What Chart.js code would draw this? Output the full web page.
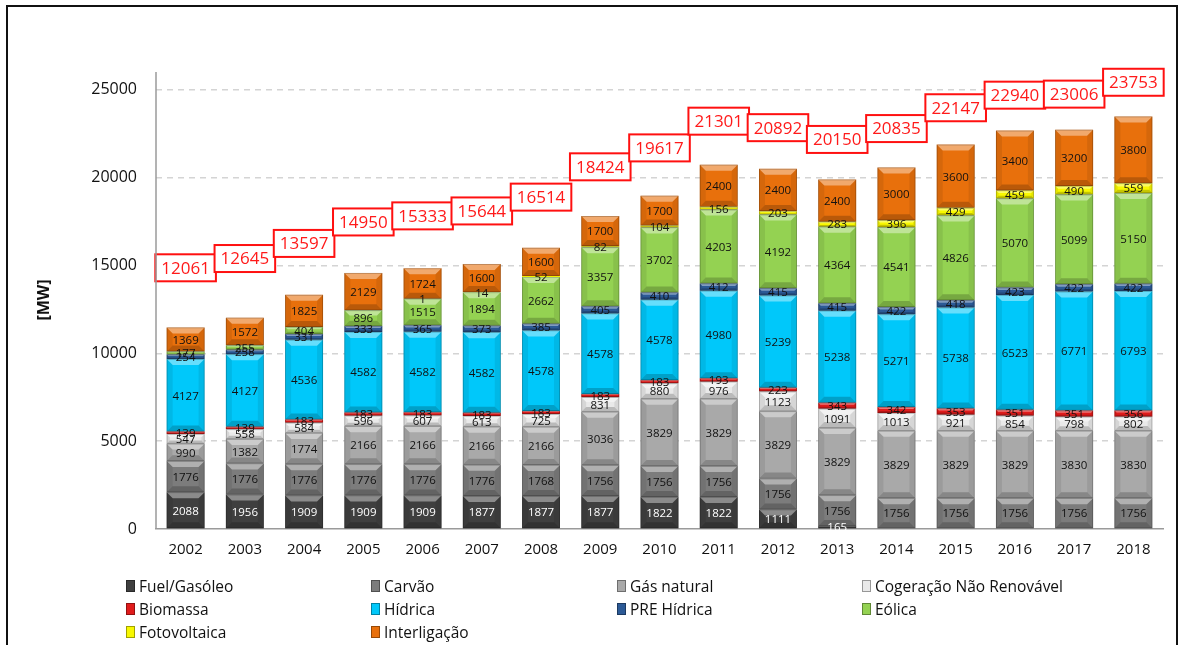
<!DOCTYPE html>
<html lang="pt">
<head>
<meta charset="utf-8">
<title>Potência instalada [MW]</title>
<script src="https://cdn.jsdelivr.net/npm/chart.js@4.4.1/dist/chart.umd.min.js"></script>
<style>
  html, body { margin: 0; padding: 0; background: #fff; overflow: hidden; }
  #wrap { position: relative; width: 1188px; height: 645px; }
  #frame {
    position: absolute; left: 6px; top: 5px; width: 1172px; height: 700px;
    border: 2px solid #111; box-sizing: border-box; pointer-events: none;
  }
  #legend {
    position: absolute; left: 126px; top: 576px;
    display: grid; grid-template-columns: 245px 246px 245px 260px;
    row-gap: 4px; font-family: "Open Sans", sans-serif; font-size: 15.5px; color: #111;
  }
  .item { display: flex; align-items: center; height: 19px; white-space: nowrap; }
  .sw { width: 9px; height: 12px; margin-right: 4px; box-sizing: border-box; border: 1px solid rgba(0,0,0,0.35); }
</style>
</head>
<body>
<div id="wrap">
  <canvas id="chart" width="1188" height="645"></canvas>
  <div id="frame"></div>
  <div id="legend"></div>
</div>
<script>
// Potência instalada por tecnologia (MW), 2002-2018
const years = ['2002','2003','2004','2005','2006','2007','2008','2009','2010','2011','2012','2013','2014','2015','2016','2017','2018'];

const fuel       = [2088, 1956, 1909, 1909, 1909, 1877, 1877, 1877, 1822, 1822, 1111, 165, 0, 0, 0, 0, 0];
const carvao     = [1776, 1776, 1776, 1776, 1776, 1776, 1768, 1756, 1756, 1756, 1756, 1756, 1756, 1756, 1756, 1756, 1756];
const gasNatural = [990, 1382, 1774, 2166, 2166, 2166, 2166, 3036, 3829, 3829, 3829, 3829, 3829, 3829, 3829, 3830, 3830];
const cogeracao  = [547, 558, 584, 596, 607, 613, 725, 831, 880, 976, 1123, 1091, 1013, 921, 854, 798, 802];
const biomassa   = [139, 139, 183, 183, 183, 183, 183, 183, 183, 193, 223, 343, 342, 353, 351, 351, 356];
const hidrica    = [4127, 4127, 4536, 4582, 4582, 4582, 4578, 4578, 4578, 4980, 5239, 5238, 5271, 5738, 6523, 6771, 6793];
const preHidrica = [254, 258, 331, 333, 365, 373, 385, 405, 410, 412, 415, 415, 422, 418, 423, 422, 422];
const eolica     = [177, 255, 404, 896, 1515, 1894, 2662, 3357, 3702, 4203, 4192, 4364, 4541, 4826, 5070, 5099, 5150];
const fotovolt   = [0, 0, 0, 0, 1, 14, 52, 82, 104, 156, 203, 283, 396, 429, 459, 490, 559];
const interlig   = [1369, 1572, 1825, 2129, 1724, 1600, 1600, 1700, 1700, 2400, 2400, 2400, 3000, 3600, 3400, 3200, 3800];

// valores nas caixas vermelhas
const totals = [12061, 12645, 13597, 14950, 15333, 15644, 16514, 18424, 19617, 21301, 20892, 20150, 20835, 22147, 22940, 23006, 23753];

const yTicks = [0, 5000, 10000, 15000, 20000, 25000];

const series = [
  { label: 'Fuel/Gasóleo', data: fuel, color: '#3f3f3f', text: '#ffffff' },
  { label: 'Carvão', data: carvao, color: '#7c7c7c', text: '#111111' },
  { label: 'Gás natural', data: gasNatural, color: '#a9a9a9', text: '#111111' },
  { label: 'Cogeração Não Renovável', data: cogeracao, color: '#e9e9e9', text: '#111111' },
  { label: 'Biomassa', data: biomassa, color: '#e01b1b', text: '#111111' },
  { label: 'Hídrica', data: hidrica, color: '#00c8fa', text: '#111111' },
  { label: 'PRE Hídrica', data: preHidrica, color: '#2c5a96', text: '#111111' },
  { label: 'Eólica', data: eolica, color: '#94d252', text: '#111111' },
  { label: 'Fotovoltaica', data: fotovolt, color: '#f8f800', text: '#111111' },
  { label: 'Interligação', data: interlig, color: '#e8700c', text: '#111111' }
];

const FONT = '"Open Sans", sans-serif';

const datasets = series.map(s => ({
  type: 'bar',
  label: s.label,
  data: s.data,
  backgroundColor: s.color,
  borderWidth: 0,
  stack: 'mw',
  categoryPercentage: 1,
  barPercentage: 0.64,
  labelColor: s.text,
  order: 2
}));

datasets.push({
  type: 'line',
  label: 'total',
  data: totals,
  yAxisID: 'y2',
  showLine: false,
  pointRadius: 0,
  pointHoverRadius: 0,
  order: 1
});

// relevo simples em cada segmento (faixa clara em cima, escura em baixo)
const bevelPlugin = {
  id: 'bevel',
  afterDatasetsDraw(chart) {
    const ctx = chart.ctx;
    chart.data.datasets.forEach((ds, i) => {
      if (ds.type !== 'bar') return;
      chart.getDatasetMeta(i).data.forEach(bar => {
        const x0 = bar.x - bar.width / 2, x1 = bar.x + bar.width / 2;
        const top = Math.min(bar.y, bar.base), bot = Math.max(bar.y, bar.base);
        const h = bot - top;
        if (h < 1) return;
        const b = Math.min(6, h / 3);
        ctx.save();
        ctx.fillStyle = 'rgba(255,255,255,0.4)';
        ctx.beginPath();
        ctx.moveTo(x0, top); ctx.lineTo(x1, top);
        ctx.lineTo(x1 - b, top + b); ctx.lineTo(x0 + b, top + b);
        ctx.closePath(); ctx.fill();
        ctx.fillStyle = 'rgba(0,0,0,0.2)';
        ctx.beginPath();
        ctx.moveTo(x0, bot); ctx.lineTo(x1, bot);
        ctx.lineTo(x1 - b, bot - b); ctx.lineTo(x0 + b, bot - b);
        ctx.closePath(); ctx.fill();
        ctx.fillStyle = 'rgba(0,0,0,0.08)';
        ctx.beginPath();
        ctx.moveTo(x0, top); ctx.lineTo(x0 + b, top + b);
        ctx.lineTo(x0 + b, bot - b); ctx.lineTo(x0, bot);
        ctx.closePath(); ctx.fill();
        ctx.beginPath();
        ctx.moveTo(x1, top); ctx.lineTo(x1 - b, top + b);
        ctx.lineTo(x1 - b, bot - b); ctx.lineTo(x1, bot);
        ctx.closePath(); ctx.fill();
        ctx.strokeStyle = 'rgba(0,0,0,0.25)';
        ctx.lineWidth = 0.8;
        ctx.strokeRect(x0 + 0.4, top + 0.4, bar.width - 0.8, h - 0.8);
        ctx.restore();
      });
    });
  }
};

// valores dentro das barras e caixas vermelhas com os totais
const labelPlugin = {
  id: 'valueLabels',
  afterDraw(chart) {
    const ctx = chart.ctx;
    ctx.save();
    ctx.textAlign = 'center';
    ctx.textBaseline = 'middle';
    ctx.font = '11.5px ' + FONT;
    chart.data.datasets.forEach((ds, i) => {
      if (ds.type !== 'bar') return;
      chart.getDatasetMeta(i).data.forEach((bar, j) => {
        const v = ds.data[j];
        if (!v) return;
        ctx.fillStyle = ds.labelColor;
        ctx.fillText(String(v), bar.x, (bar.y + bar.base) / 2 + 1);
      });
    });

    const idx = chart.data.datasets.findIndex(d => d.label === 'total');
    ctx.font = '17px ' + FONT;
    chart.getDatasetMeta(idx).data.forEach((pt, j) => {
      const txt = String(totals[j]);
      const w = ctx.measureText(txt).width + 12;
      const h = 27;
      ctx.fillStyle = '#ffffff';
      ctx.fillRect(pt.x - w / 2, pt.y - h / 2, w, h);
      ctx.strokeStyle = '#ff1010';
      ctx.lineWidth = 2;
      ctx.strokeRect(pt.x - w / 2, pt.y - h / 2, w, h);
      ctx.fillStyle = '#ff1a1a';
      ctx.fillText(txt, pt.x, pt.y + 1);
    });

    // título do eixo
    ctx.translate(44, 300);
    ctx.rotate(-Math.PI / 2);
    ctx.font = 'bold 16px ' + FONT;
    ctx.fillStyle = '#111';
    ctx.fillText('[MW]', 0, 0);
    ctx.restore();
  }
};

const whiteBg = {
  id: 'whiteBg',
  beforeDraw(chart) {
    const ctx = chart.ctx;
    ctx.save();
    ctx.fillStyle = '#fff';
    ctx.fillRect(0, 0, chart.width, chart.height);
    ctx.restore();
  }
};

// eixo vertical contínuo por cima da grelha tracejada
const axisLine = {
  id: 'axisLine',
  afterDraw(chart) {
    const a = chart.chartArea, ctx = chart.ctx;
    ctx.save();
    ctx.strokeStyle = '#9a9a9a';
    ctx.lineWidth = 1.5;
    ctx.beginPath();
    ctx.moveTo(a.left, a.top);
    ctx.lineTo(a.left, a.bottom);
    ctx.stroke();
    ctx.restore();
  }
};

new Chart(document.getElementById('chart'), {
  data: { labels: years, datasets: datasets },
  plugins: [whiteBg, bevelPlugin, labelPlugin, axisLine],
  options: {
    responsive: false,
    animation: false,
    layout: { padding: { left: 0, top: 72, right: 25, bottom: 86 } },
    plugins: { legend: { display: false }, tooltip: { enabled: false } },
    scales: {
      x: {
        stacked: true,
        grid: { display: false, drawTicks: false },
        border: { display: true, color: '#9a9a9a', width: 1.5 },
        ticks: { color: '#111', font: { family: FONT, size: 15 }, padding: 12, maxRotation: 0 },
        afterFit(scale) { scale.height = 30; }
      },
      y: {
        stacked: true,
        min: 0,
        max: 26000,
        afterBuildTicks(scale) { scale.ticks = yTicks.map(v => ({ value: v })); },
        grid: {
          color: ctx => ctx.tick && ctx.tick.value === 0 ? 'rgba(0,0,0,0)' : '#d4d4d4',
          lineWidth: 1.4,
          drawTicks: false
        },
        border: { display: false, dash: [6, 5] },
        ticks: {
          color: '#111',
          font: { family: FONT, size: 16 },
          padding: 19,
          callback: v => String(v)
        },
        afterFit(scale) { scale.width = 156; }
      },
      y2: {
        display: false,
        min: -4400,
        max: 24400
      }
    }
  }
});

// legenda em grelha de 4 colunas
const legend = document.getElementById('legend');
series.forEach(s => {
  const item = document.createElement('div');
  item.className = 'item';
  const sw = document.createElement('span');
  sw.className = 'sw';
  sw.style.background = s.color;
  item.appendChild(sw);
  item.appendChild(document.createTextNode(s.label));
  legend.appendChild(item);
});
</script>
</body>
</html>
